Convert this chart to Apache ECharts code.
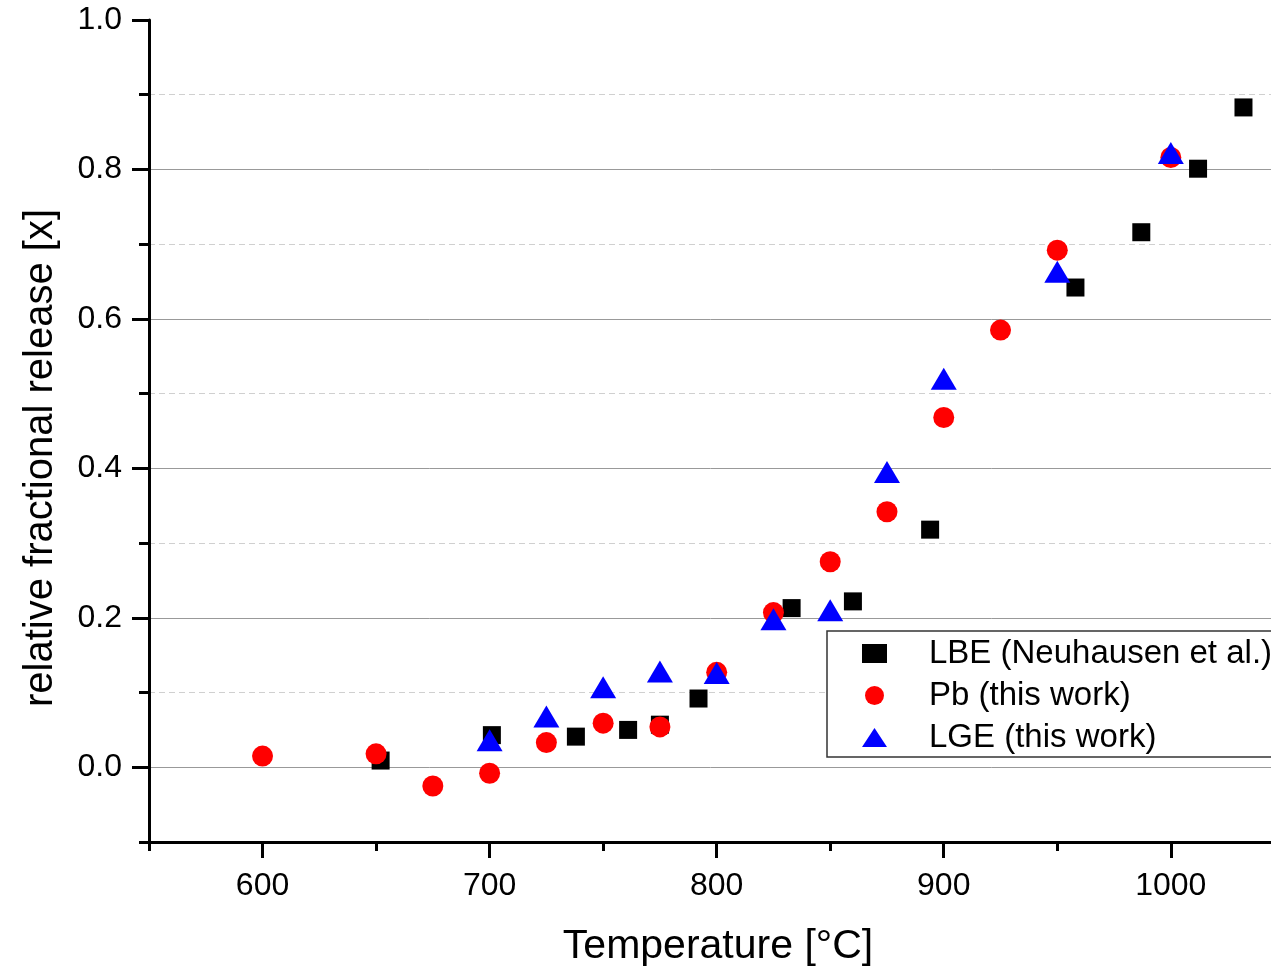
<!DOCTYPE html>
<html>
<head>
<meta charset="utf-8">
<title>relative fractional release</title>
<script src="https://cdn.jsdelivr.net/npm/echarts@6/dist/echarts.min.js"></script>
<style>
  html, body { margin: 0; padding: 0; background: #fff; }
  #chart { width: 1271px; height: 969px; }
</style>
</head>
<body>
<div id="chart"></div>
<script>
// LBE (Neuhausen et al.)
const lbeTemp = [652, 701, 738, 761, 775, 792, 833, 860, 894, 958, 987, 1012, 1032];
const lbeRelease = [0.009, 0.043, 0.041, 0.050, 0.057, 0.092, 0.213, 0.222, 0.318, 0.642, 0.716, 0.801, 0.883];
// Pb (this work)
const pbTemp = [600, 650, 675, 700, 725, 750, 775, 800, 825, 850, 875, 900, 925, 950, 1000];
const pbRelease = [0.015, 0.018, -0.025, -0.008, 0.033, 0.059, 0.054, 0.127, 0.207, 0.275, 0.342, 0.468, 0.585, 0.692, 0.816];
// LGE (this work)
const lgeTemp = [700, 725, 750, 775, 800, 825, 850, 875, 900, 950, 1000];
const lgeRelease = [0.036, 0.068, 0.107, 0.128, 0.126, 0.198, 0.210, 0.395, 0.520, 0.663, 0.822];

const xMajorTicks = [600, 700, 800, 900, 1000];
const xMinorTicks = [550, 650, 750, 850, 950];
const yMajorTicks = [0, 0.2, 0.4, 0.6, 0.8, 1.0];
const yMinorTicks = [-0.1, 0.1, 0.3, 0.5, 0.7, 0.9];

const FONT = "'Liberation Sans', Arial, sans-serif";

const pairs = (xs, ys) => xs.map((x, i) => [x, ys[i]]);

const chart = echarts.init(document.getElementById('chart'));

const xBase = {
  type: 'value',
  min: 550,
  max: 1045,
  interval: 50,
  position: 'bottom',
  gridIndex: 0,
};
const yBase = {
  type: 'value',
  min: -0.1,
  max: 1.0,
  interval: 0.1,
  position: 'left',
  gridIndex: 0,
};

const option = {
  animation: false,
  backgroundColor: '#fff',
  textStyle: { fontFamily: FONT },
  grid: {
    left: 149,
    top: 20,
    width: 1124,
    bottom: 127,
    outerBoundsMode: 'none',
  },
  xAxis: [
    {
      ...xBase,
      name: 'Temperature [°C]',
      nameLocation: 'middle',
      nameGap: 84,
      nameTextStyle: { fontSize: 41, color: '#000', fontFamily: FONT, padding: [0, 0, 0, 14] },
      axisLine: { onZero: false, lineStyle: { color: '#000', width: 3 } },
      axisTick: { customValues: xMajorTicks, length: 16, lineStyle: { color: '#000', width: 3 } },
      axisLabel: {
        customValues: xMajorTicks,
        fontSize: 32,
        color: '#000',
        margin: 28,
        fontFamily: FONT,
        formatter: (v) => String(v),
      },
      splitLine: { show: false },
    },
    {
      ...xBase,
      axisLine: { show: false, onZero: false },
      axisTick: { customValues: xMinorTicks, length: 9, lineStyle: { color: '#000', width: 3 } },
      axisLabel: { show: false },
      splitLine: { show: false },
    },
  ],
  yAxis: [
    {
      ...yBase,
      name: 'relative fractional release [x]',
      nameLocation: 'middle',
      nameGap: 88,
      nameTextStyle: { fontSize: 40, color: '#000', fontFamily: FONT, padding: [0, 54, 0, 0] },
      axisLine: { onZero: false, lineStyle: { color: '#000', width: 3 } },
      axisTick: { customValues: yMajorTicks, length: 17, lineStyle: { color: '#000', width: 3 } },
      axisLabel: {
        customValues: yMajorTicks,
        fontSize: 32,
        color: '#000',
        margin: 27,
        fontFamily: FONT,
        formatter: (v) => v.toFixed(1),
      },
      splitLine: { show: true, showMaxLine: false, lineStyle: { color: '#999', width: 1, type: 'solid' } },
    },
    {
      ...yBase,
      axisLine: { show: false, onZero: false },
      axisTick: { customValues: yMinorTicks, length: 10, lineStyle: { color: '#000', width: 3 } },
      axisLabel: { show: false },
      splitLine: { show: true, showMinLine: false, lineStyle: { color: '#d0d0d0', width: 1, type: [6, 4] } },
    },
  ],
  legend: {
    orient: 'vertical',
    left: 827,
    top: 631,
    padding: [6, 30, 3, 35],
    itemGap: 9,
    itemWidth: 25,
    itemHeight: 19,
    backgroundColor: '#fff',
    borderColor: '#333',
    borderWidth: 1.5,
    borderRadius: 0,
    textStyle: { fontSize: 33, color: '#000', fontFamily: FONT, padding: [0, 0, 0, 37] },
    data: ['LBE (Neuhausen et al.)', 'Pb (this work)', 'LGE (this work)'],
  },
  series: [
    {
      name: 'LBE (Neuhausen et al.)',
      type: 'scatter',
      symbol: 'rect',
      symbolSize: 18,
      itemStyle: { color: '#000', opacity: 1 },
      data: pairs(lbeTemp, lbeRelease),
    },
    {
      name: 'Pb (this work)',
      type: 'scatter',
      symbol: 'circle',
      symbolSize: 21,
      itemStyle: { color: '#ff0000', opacity: 1 },
      data: pairs(pbTemp, pbRelease),
    },
    {
      name: 'LGE (this work)',
      type: 'scatter',
      symbol: 'triangle',
      symbolSize: [26, 22],
      itemStyle: { color: '#0000ff', opacity: 1 },
      data: pairs(lgeTemp, lgeRelease),
    },
  ],
};

chart.setOption(option);
</script>
</body>
</html>
